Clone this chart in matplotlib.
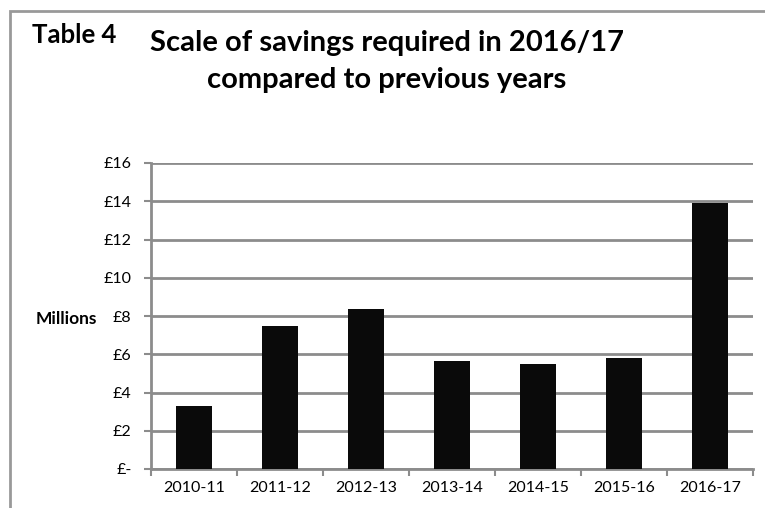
import numpy as np
import matplotlib
matplotlib.use("Agg")
import matplotlib.pyplot as plt
from matplotlib.patches import Rectangle

plt.rcParams['font.family'] = ['Lato', 'DejaVu Sans']

years = ['2010-11', '2011-12', '2012-13', '2013-14', '2014-15', '2015-16', '2016-17']
savings = [3.3, 7.5, 8.35, 5.65, 5.5, 5.8, 13.9]   # £ millions
yticks = [0, 2, 4, 6, 8, 10, 12, 14, 16]
ylabels = ['£-', '£2', '£4', '£6', '£8', '£10', '£12', '£14', '£16']

grey = '#8c8c8c'
W, H = 765, 508

fig = plt.figure(figsize=(W/100, H/100), dpi=100)
ax = fig.add_axes([151/W, 1 - 469/H, 602/W, 306/H])

x = np.arange(len(years))
ax.bar(x, savings, width=0.41, color='#0a0a0a', zorder=3)

ax.set_xlim(-0.5, len(years) - 0.5)
ax.set_ylim(0, 16)
ax.set_yticks(yticks)
ax.set_yticklabels(ylabels, fontsize=11.5)
ax.set_xticks(x)
ax.set_xticklabels(years, fontsize=11.5)
ax.set_xticks(np.arange(-0.5, len(years), 1.0), minor=True)
ax.tick_params(axis='x', which='major', length=0, pad=9)
ax.tick_params(axis='x', which='minor', length=5, width=1.5, color=grey)
ax.tick_params(axis='y', length=5, width=1.5, color=grey, pad=9)

ax.grid(True, axis='y', color=grey, linewidth=2, zorder=0)
ax.set_axisbelow(True)
for s in ['top', 'right']:
    ax.spines[s].set_visible(False)
for s in ['left', 'bottom']:
    ax.spines[s].set_color(grey)
    ax.spines[s].set_linewidth(2)

fig.text(32/W, 1 - 43/H, 'Table 4', fontsize=18.5, fontweight='bold', va='baseline')
fig.text(387/W, 1 - 51/H, 'Scale of savings required in 2016/17',
         fontsize=21, fontweight='bold', ha='center', va='baseline')
fig.text(387/W, 1 - 88/H, 'compared to previous years',
         fontsize=21, fontweight='bold', ha='center', va='baseline')
fig.text(36/W, 1 - 319/H, 'Millions', fontsize=12.5, fontweight='bold', va='center')

# outer frame
fig.patches.append(Rectangle((10/W, -0.1), 1.2, 1 - 11/H + 0.1, transform=fig.transFigure,
                             fill=False, edgecolor='#999999', linewidth=2))

fig.savefig('out.png', dpi=100)
